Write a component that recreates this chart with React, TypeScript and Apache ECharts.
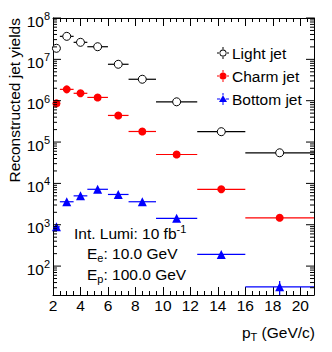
import React, { useEffect, useRef } from 'react';
import * as echarts from 'echarts';

const binCenters = [2.25, 3, 4, 5.25, 6.75, 8.5, 11, 14.25, 18.5];
const binLow = [2, 2.5, 3.5, 4.5, 6, 7.5, 9.5, 12.5, 16];
const binHigh = [2.5, 3.5, 4.5, 6, 7.5, 9.5, 12.5, 16, 21];
const lightYields = [1.85e7, 3.6e7, 2.58e7, 2.02e7, 7.6e6, 3.3e6, 9.4e5, 1.78e5, 5.5e4];
const charmYields = [8.6e5, 1.88e6, 1.51e6, 1.2e6, 4.4e5, 1.8e5, 5.0e4, 7.2e3, 1.47e3];
const bottomYields = [890, 3600, 5000, 7200, 5400, 3600, 1430, 192, 31.6];
const lightErrors = [0, 0, 0, 0, 0, 0, 0, 0, 0];
const charmErrors = [0, 0, 0, 0, 0, 0, 0, 0, 0];
const bottomErrors = [0, 0, 0, 0, 0, 0, 0, 0, 12];
const seriesNames = ['Light jet', 'Charm jet', 'Bottom jet'];
const seriesColors = ['#000000', '#ff0000', '#0000ff'];
const xMin = 2;
const xMax = 21;
const yMin = 20;
const yMax = 1e8;
const annotationLines = ['Int. Lumi: 10 fb{sup|-1}', 'E{sub|e}: 10.0 GeV', 'E{sub|p}: 100.0 GeV'];
const xTitle = 'p{sub|T} (GeV/c)';
const yTitle = 'Reconstructed jet yields';

const FONT = '"Liberation Sans", Arial, Helvetica, sans-serif';
const FS = 15.5;
const FS_SMALL = 11;

// legend icons: marker plus error-bar cross
const CROSS = 'M0 5.5H3.2V6.5H0Z M8.8 5.5H12V6.5H8.8Z M5.5 0H6.5V2.2H5.5Z M5.5 9.8H6.5V12H5.5Z ';
const ICON_OPEN = 'path://' + CROSS +
  'M9.5 6A3.5 3.5 0 1 0 2.5 6A3.5 3.5 0 1 0 9.5 6Z M8.6 6A2.6 2.6 0 1 1 3.4 6A2.6 2.6 0 1 1 8.6 6Z';
const ICON_FILLED = 'path://' + CROSS + 'M9.5 6A3.5 3.5 0 1 0 2.5 6A3.5 3.5 0 1 0 9.5 6Z';
const ICON_TRI = 'path://' + CROSS + 'M6 2.2L10 9L2 9Z M5.5 9H6.5V9.8H5.5Z';

function isPow10(v: number) {
  const l = Math.log10(v);
  return Math.abs(l - Math.round(l)) < 1e-6;
}

function errData(ys: number[], errs: number[]) {
  return binCenters.map((x, i) => [x, ys[i], binLow[i], binHigh[i], ys[i] - errs[i], ys[i] + errs[i]]);
}

function errSeries(name: string, ys: number[], errs: number[], color: string) {
  return {
    type: 'custom',
    name: name + ' err',
    clip: true,
    z: 2,
    encode: { x: [0, 2, 3], y: [1, 4, 5] },
    data: errData(ys, errs),
    renderItem: (params: any, api: any) => {
      const p = api.coord([api.value(0), api.value(1)]);
      const lo = api.coord([api.value(2), api.value(1)]);
      const hi = api.coord([api.value(3), api.value(1)]);
      const ylo = api.coord([api.value(0), Math.max(api.value(4), 1e-3)]);
      const yhi = api.coord([api.value(0), api.value(5)]);
      const cs = params.coordSys;
      const children: any[] = [
        { type: 'line', shape: { x1: lo[0], y1: p[1], x2: hi[0], y2: p[1] }, style: { stroke: color, lineWidth: 1.2 } },
      ];
      if (api.value(5) > api.value(1)) {
        children.push({
          type: 'line',
          shape: { x1: p[0], y1: Math.min(ylo[1], cs.y + cs.height), x2: p[0], y2: yhi[1] },
          style: { stroke: color, lineWidth: 1.2 },
        });
      }
      return { type: 'group', children };
    },
  };
}

// Minor tick positions for the log y axis (axis decoration, 2..9 x 10^n)
const yMinorTicks: number[] = [];
for (let d = 1; d < 8; d++) {
  for (let m = 2; m <= 9; m++) {
    const v = m * Math.pow(10, d);
    if (v > yMin && v < yMax) yMinorTicks.push(v);
  }
}
const yMajorTicks: number[] = [];
for (let d = 2; d <= 8; d++) yMajorTicks.push(Math.pow(10, d));

function tickSeries() {
  return {
    type: 'custom',
    name: 'yticks',
    silent: true,
    z: 5,
    data: [...yMinorTicks.map((v) => [xMin, v, 4]), ...yMajorTicks.map((v) => [xMin, v, 8])],
    renderItem: (params: any, api: any) => {
      const p = api.coord([api.value(0), api.value(1)]);
      const len = api.value(2);
      const cs = params.coordSys;
      const x0 = cs.x;
      const x1 = cs.x + cs.width;
      return {
        type: 'group',
        children: [
          { type: 'line', shape: { x1: x0, y1: p[1], x2: x0 + len, y2: p[1] }, style: { stroke: '#000', lineWidth: 1 } },
          { type: 'line', shape: { x1: x1, y1: p[1], x2: x1 - len, y2: p[1] }, style: { stroke: '#000', lineWidth: 1 } },
        ],
      };
    },
  };
}

export default function App() {
  const ref = useRef<HTMLDivElement>(null);
  useEffect(() => {
    if (!ref.current) return;
    const chart = echarts.init(ref.current, null, { renderer: 'svg' });
    const xAxisCommon = {
      type: 'value',
      min: xMin,
      max: xMax,
      interval: 2,
      splitLine: { show: false },
      axisLine: { show: true, onZero: false, lineStyle: { color: '#000', width: 1 } },
      axisTick: { show: true, inside: true, length: 8, lineStyle: { color: '#000' } },
      minorTick: { show: true, splitNumber: 4, length: 4, lineStyle: { color: '#000' } },
    };
    const yAxisCommon = {
      type: 'log',
      logBase: 10,
      min: yMin,
      max: yMax,
      splitNumber: 7,
      splitLine: { show: false },
      axisLine: { show: true, onZero: false, lineStyle: { color: '#000', width: 1 } },
      axisTick: { show: false },
      minorTick: { show: false },
    };
    const option: any = {
      animation: false,
      backgroundColor: '#fff',
      textStyle: { fontFamily: FONT },
      grid: { left: 53, top: 18, right: 18, bottom: 57 },
      legend: {
        data: [
          { name: seriesNames[0], icon: ICON_OPEN, itemStyle: { color: '#000', borderWidth: 0 } },
          { name: seriesNames[1], icon: ICON_FILLED, itemStyle: { color: seriesColors[1], borderWidth: 0 } },
          { name: seriesNames[2], icon: ICON_TRI, itemStyle: { color: seriesColors[2], borderWidth: 0 } },
        ],
        orient: 'vertical',
        left: 212,
        top: 40,
        itemWidth: 12,
        itemHeight: 12,
        itemGap: 7,
        textStyle: { fontFamily: FONT, fontSize: FS, color: '#000', padding: [0, 0, 0, -2] },
      },
      xAxis: [
        {
          ...xAxisCommon,
          position: 'bottom',
          axisLabel: {
            show: true,
            margin: 2,
            fontFamily: FONT,
            fontSize: FS,
            color: '#000',
            formatter: (v: number) => (Math.abs(v % 2) < 1e-9 ? String(v) : ''),
          },
        },
        { ...xAxisCommon, position: 'top', axisLabel: { show: false } },
      ],
      yAxis: [
        {
          ...yAxisCommon,
          position: 'left',
          axisLabel: {
            show: true,
            margin: 3,
            color: '#000',
            formatter: (v: number) => (isPow10(v) ? `{b|10}{s|${Math.round(Math.log10(v))}}` : ''),
            rich: {
              b: { fontFamily: FONT, fontSize: FS, color: '#000', padding: [6, 0, 0, 0] },
              s: { fontFamily: FONT, fontSize: FS_SMALL, color: '#000', padding: [0, 0, 4, 0] },
            },
          },
        },
        { ...yAxisCommon, position: 'right', axisLabel: { show: false } },
      ],
      graphic: [
        {
          type: 'text',
          x: 14,
          y: 18,
          rotation: Math.PI / 2,
          style: { text: yTitle, font: `${FS}px ${FONT}`, fill: '#000', align: 'right', verticalAlign: 'middle' },
        },
        {
          type: 'text',
          x: 315,
          y: 332,
          style: {
            text: xTitle,
            fill: '#000',
            align: 'right',
            verticalAlign: 'middle',
            font: `${FS}px ${FONT}`,
            rich: {
              sub: { fontFamily: FONT, fontSize: FS_SMALL, padding: [9, 0, 0, 0] },
            },
          },
        },
        ...annotationLines.map((t, i) => ({
          type: 'text',
          x: i === 0 ? 74 : 87,
          y: [233, 253, 274][i],
          style: {
            text: t,
            fill: '#000',
            align: 'left',
            verticalAlign: 'middle',
            font: `${FS}px ${FONT}`,
            rich: {
              sup: { fontFamily: FONT, fontSize: FS_SMALL, padding: [0, 0, 8, 0] },
              sub: { fontFamily: FONT, fontSize: FS_SMALL, padding: [9, 0, 0, 0] },
            },
          },
        })),
      ],
      series: [
        tickSeries(),
        errSeries(seriesNames[0], lightYields, lightErrors, seriesColors[0]),
        errSeries(seriesNames[1], charmYields, charmErrors, seriesColors[1]),
        errSeries(seriesNames[2], bottomYields, bottomErrors, seriesColors[2]),
        {
          type: 'scatter',
          name: seriesNames[0],
          z: 3,
          symbol: 'circle',
          symbolSize: 8,
          itemStyle: { color: '#ffffff', borderColor: '#000', borderWidth: 1, opacity: 1 },
          data: binCenters.map((x, i) => [x, lightYields[i]]),
        },
        {
          type: 'scatter',
          name: seriesNames[1],
          z: 3,
          symbol: 'circle',
          symbolSize: 8,
          itemStyle: { color: seriesColors[1], opacity: 1 },
          data: binCenters.map((x, i) => [x, charmYields[i]]),
        },
        {
          type: 'scatter',
          name: seriesNames[2],
          z: 3,
          symbol: 'triangle',
          symbolSize: 9,
          itemStyle: { color: seriesColors[2], opacity: 1 },
          data: binCenters.map((x, i) => [x, bottomYields[i]]),
        },
      ],
    };
    chart.setOption(option);
    return () => chart.dispose();
  }, []);
  return <div ref={ref} style={{ width: 332, height: 352, position: 'absolute', left: 0, top: 0 }} />;
}
